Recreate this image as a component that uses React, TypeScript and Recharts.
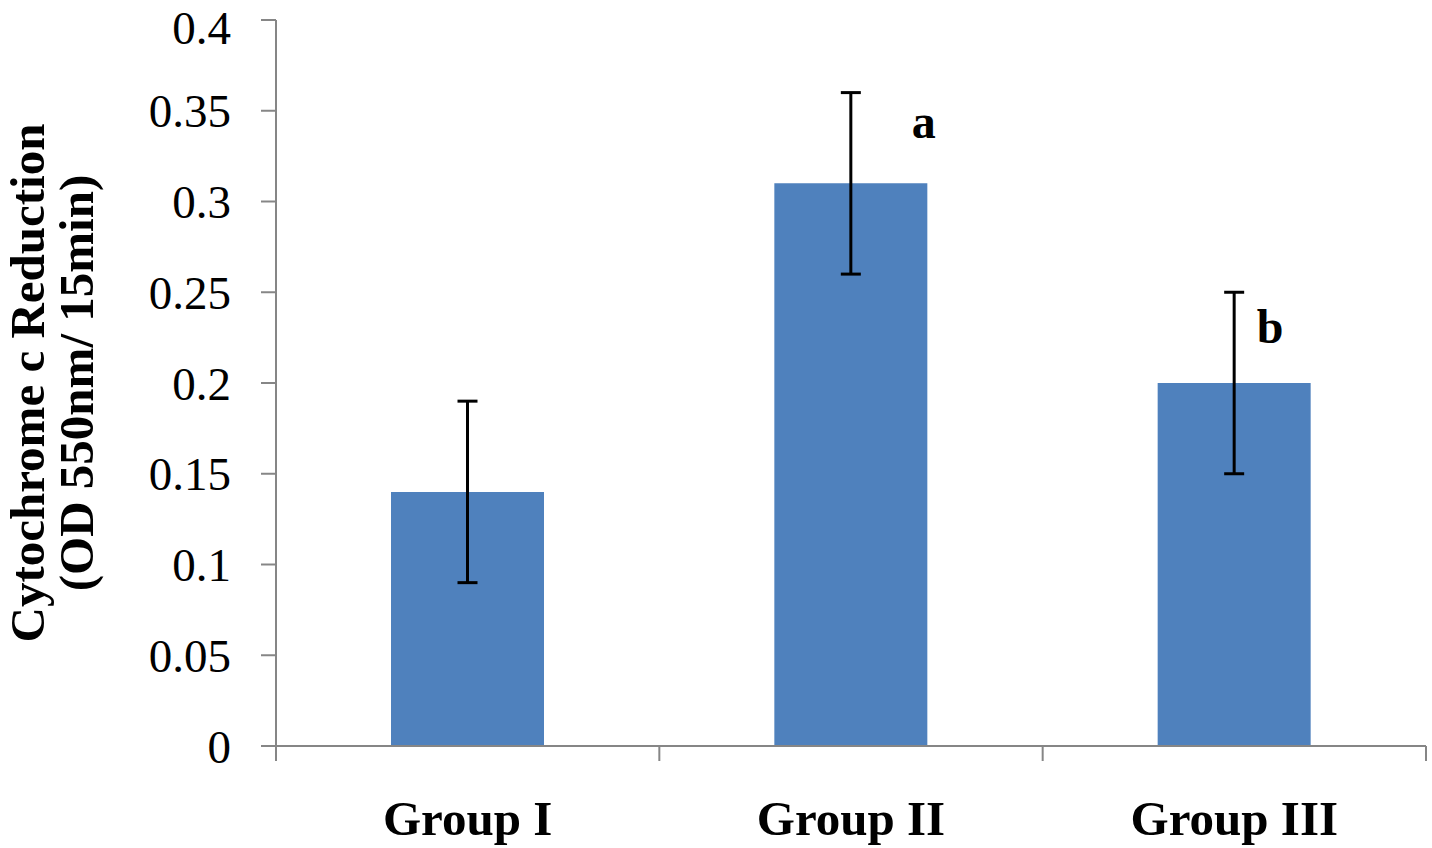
import React from 'react';
import { BarChart, Bar, XAxis, YAxis, ErrorBar, LabelList, Label } from 'recharts';

const groups = ['Group I', 'Group II', 'Group III'];
const reduction = [0.14, 0.31, 0.2];
const sem = [0.05, 0.05, 0.05];
const sigLetters = ['', 'a', 'b'];
const yTicks = [0, 0.05, 0.1, 0.15, 0.2, 0.25, 0.3, 0.35, 0.4];

const data = groups.map((g, i) => ({ name: g, value: reduction[i], err: sem[i], sig: sigLetters[i] }));

// where the letters sit next to the error bar caps
const letterPos: Record<string, { dx: number; dy: number }> = {
  a: { dx: 73, dy: -45 },
  b: { dx: 36, dy: -40 },
};

const AXIS = '#868686';
const FONT = '"Liberation Serif", "Times New Roman", serif';

const GroupTick = (props: any) => {
  const { x, y, payload, index, visibleTicksCount } = props;
  const half = payload && payload.offset ? payload.offset : 191.67;
  const last = index === (visibleTicksCount ?? groups.length) - 1;
  return (
    <g>
      <line x1={x - half} x2={x - half} y1={y} y2={y + 15} stroke={AXIS} strokeWidth={2} />
      {last && <line x1={x + half} x2={x + half} y1={y} y2={y + 15} stroke={AXIS} strokeWidth={2} />}
      <text x={x} y={y + 89} textAnchor="middle" fontFamily={FONT} fontWeight="bold" fontSize={49} fill="#000">
        {payload.value}
      </text>
    </g>
  );
};

const SigLabel = (props: any) => {
  const { x, y, width, value } = props;
  if (!value) return null;
  const p = letterPos[value] || { dx: 50, dy: -42 };
  return (
    <text x={x + width / 2 + p.dx} y={y + p.dy} textAnchor="middle" fontFamily={FONT} fontWeight="bold" fontSize={48} fill="#000">
      {value}
    </text>
  );
};

const YTitle = (props: any) => {
  const vb = props.viewBox || { y: 20, height: 726 };
  const cx = 44;
  const cy = vb.y + vb.height / 2;
  return (
    <text transform={`rotate(-90, ${cx}, ${cy})`} x={cx} y={cy} textAnchor="middle" fontFamily={FONT} fontWeight="bold" fontSize={49} fill="#000">
      <tspan x={cx} dy={0}>Cytochrome c Reduction</tspan>
      <tspan x={cx} dy={49}>(OD 550nm/ 15min)</tspan>
    </text>
  );
};

const App: React.FC = () => {
  return (
    <div style={{ position: 'absolute', left: 0, top: 0, background: '#fff' }}>
      <BarChart width={1432} height={848} data={data} margin={{ top: 20, right: 6, bottom: 0, left: 0 }} barCategoryGap="30%">
        <XAxis
          dataKey="name"
          height={102}
          stroke={AXIS}
          strokeWidth={2}
          tickLine={false}
          tickSize={0}
          tickMargin={0}
          tick={<GroupTick />}
          interval={0}
        />
        <YAxis
          width={276}
          domain={[0, 0.4]}
          ticks={yTicks}
          stroke={AXIS}
          strokeWidth={2}
          tickSize={15}
          tickMargin={30}
          tick={{ fill: '#000', fontFamily: FONT, fontSize: 47 }}
          allowDataOverflow
        >
          <Label content={<YTitle />} />
        </YAxis>
        <Bar dataKey="value" fill="#4F81BD" isAnimationActive={false}>
          <ErrorBar dataKey="err" width={10} strokeWidth={3} stroke="#000" isAnimationActive={false} />
          <LabelList dataKey="sig" content={<SigLabel />} />
        </Bar>
      </BarChart>
    </div>
  );
};

export default App;
